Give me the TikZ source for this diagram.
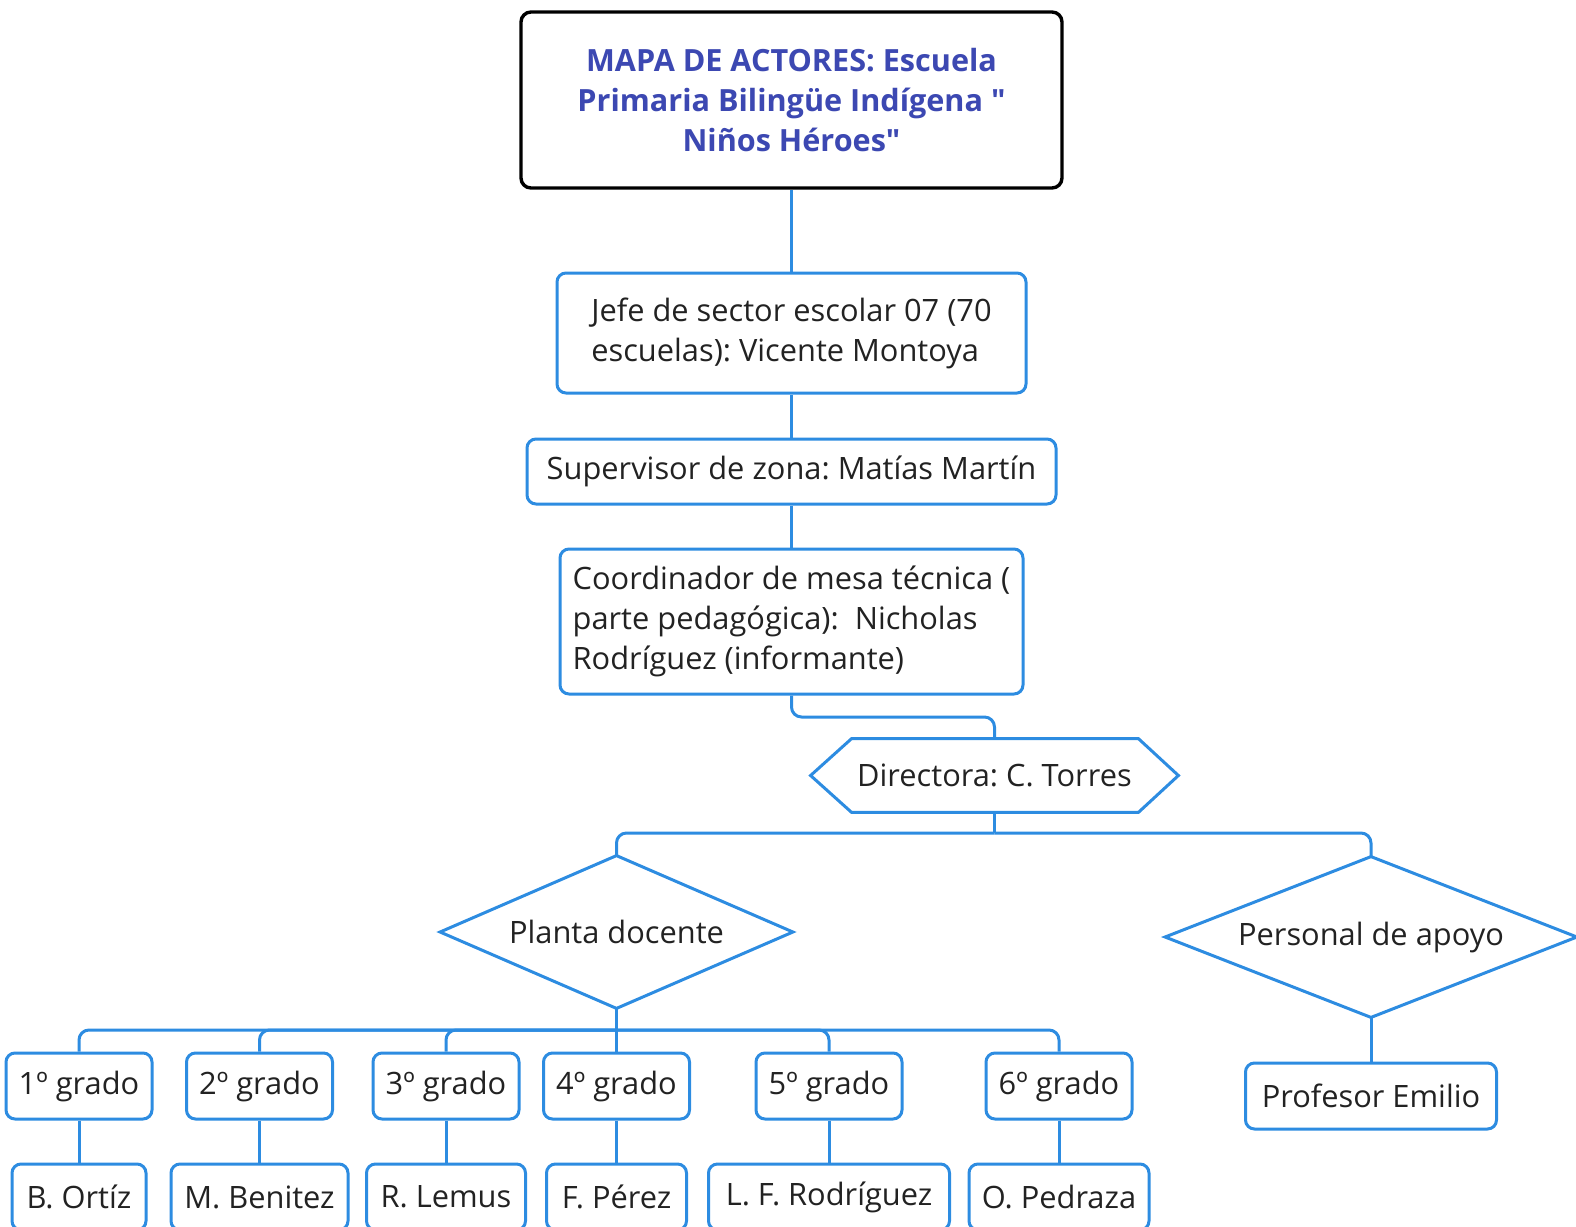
\documentclass[tikz,border=0pt]{standalone}
\usepackage{fontspec}
\setmainfont{Open Sans}[Ligatures=TeXOff]
\definecolor{xblue}{RGB}{45,140,225}
\definecolor{tblue}{RGB}{60,72,178}
\definecolor{txt}{RGB}{34,34,34}
\begin{document}
\frenchspacing
\begin{tikzpicture}[x=0.5pt,y=-0.5pt,
  box/.style={draw=xblue, line width=1.5pt, rounded corners=4.5pt, fill=white, inner sep=0pt,
    font=\fontsize{15.4}{20}\selectfont, text=txt, align=left},
  titlebox/.style={draw=black, line width=1.7pt, rounded corners=5pt, fill=white, inner sep=0pt,
    font=\fontsize{15.3}{20}\selectfont\bfseries, text=tblue, align=center},
  plain/.style={inner sep=0pt, font=\fontsize{15.4}{20}\selectfont, text=txt},
  shapeline/.style={draw=xblue, line width=1.5pt, line join=miter},
  conn/.style={draw=xblue, line width=1.5pt, rounded corners=5pt}]
\useasboundingbox (0,0) rectangle (1576,1227);
\clip (0,0) rectangle (1576,1227);

\node[titlebox, minimum width=270.5pt, minimum height=88pt] (title) at (791.5,100)
  {MAPA DE ACTORES: Escuela\\Primaria Bilingüe Indígena "\\Niños Héroes"};
\node[box, minimum width=234.5pt, minimum height=60pt] (jefe) at (791.5,333)
  {Jefe de sector escolar 07 (70\\escuelas): Vicente Montoya};
\node[box, minimum width=264.5pt, minimum height=32.5pt] (sup) at (791.5,471.5)
  {Supervisor de zona: Matías Martín};
\node[box, minimum width=231.5pt, minimum height=72.5pt] (coord) at (791.5,621.5)
  {Coordinador de mesa técnica (\\parte pedagógica):\ \ Nicholas\\Rodríguez (informante)};

\node[plain, minimum width=183.5pt, minimum height=36.5pt] (dir) at (994.5,775.5) {Directora: C. Torres};
\draw[shapeline] (dir.west) -- ([xshift=20.5pt]dir.north west) -- ([xshift=-20pt]dir.north east)
  -- (dir.east) -- ([xshift=-20pt]dir.south east) -- ([xshift=20.5pt]dir.south west) -- cycle;

\node[plain, minimum width=176pt, minimum height=76pt] (planta) at (616.5,932) {Planta docente};
\draw[shapeline] (planta.north) -- (planta.east) -- (planta.south) -- (planta.west) -- cycle;

\node[plain, minimum width=205.5pt, minimum height=80pt] (apoyo) at (1371,937) {Personal de apoyo};
\draw[shapeline] (apoyo.north) -- (apoyo.east) -- (apoyo.south) -- (apoyo.west) -- cycle;

\node[box, minimum width=125.5pt, minimum height=33pt] (prof) at (1371,1096) {Profesor Emilio};

\foreach \n/\x/\t in {g1/79/1º grado, g2/259.5/2º grado, g3/446/3º grado, g4/616.5/4º grado, g5/829/5º grado, g6/1059/6º grado}
  \node[box, minimum width=73pt, minimum height=33pt] (\n) at (\x,1086) {\t};

\node[box, minimum width=67pt, minimum height=33pt] (n1) at (79,1197) {B. Ortíz};
\node[box, minimum width=88.5pt, minimum height=33pt] (n2) at (259.5,1197) {M. Benitez};
\node[box, minimum width=79.5pt, minimum height=33pt] (n3) at (446,1197) {R. Lemus};
\node[box, minimum width=70pt, minimum height=33pt] (n4) at (616.5,1197) {F. Pérez};
\node[box, minimum width=120.5pt, minimum height=33pt] (n5) at (829,1197) {L. F. Rodríguez};
\node[box, minimum width=90pt, minimum height=33pt] (n6) at (1059,1197) {O. Pedraza};

\draw[conn] (title.south) -- (jefe.north);
\draw[conn] (jefe.south) -- (sup.north);
\draw[conn] (sup.south) -- (coord.north);
\coordinate (k1) at (994.5,717);
\draw[conn] (coord.south) |- (k1) -- (dir.north);
\coordinate (b1) at (994.5,833);
\draw[conn] (dir.south) -- (b1);
\draw[conn] (b1) -| (planta.north);
\draw[conn] (b1) -| (apoyo.north);
\coordinate (b2) at (616.5,1030);
\draw[conn] (planta.south) -- (g4.north);
\foreach \n in {g1,g2,g3,g5,g6} \draw[conn] (b2) -| (\n.north);
\foreach \i in {1,...,6} \draw[conn] (g\i.south) -- (n\i.north);
\draw[conn] (apoyo.south) -- (prof.north);
\end{tikzpicture}
\end{document}
